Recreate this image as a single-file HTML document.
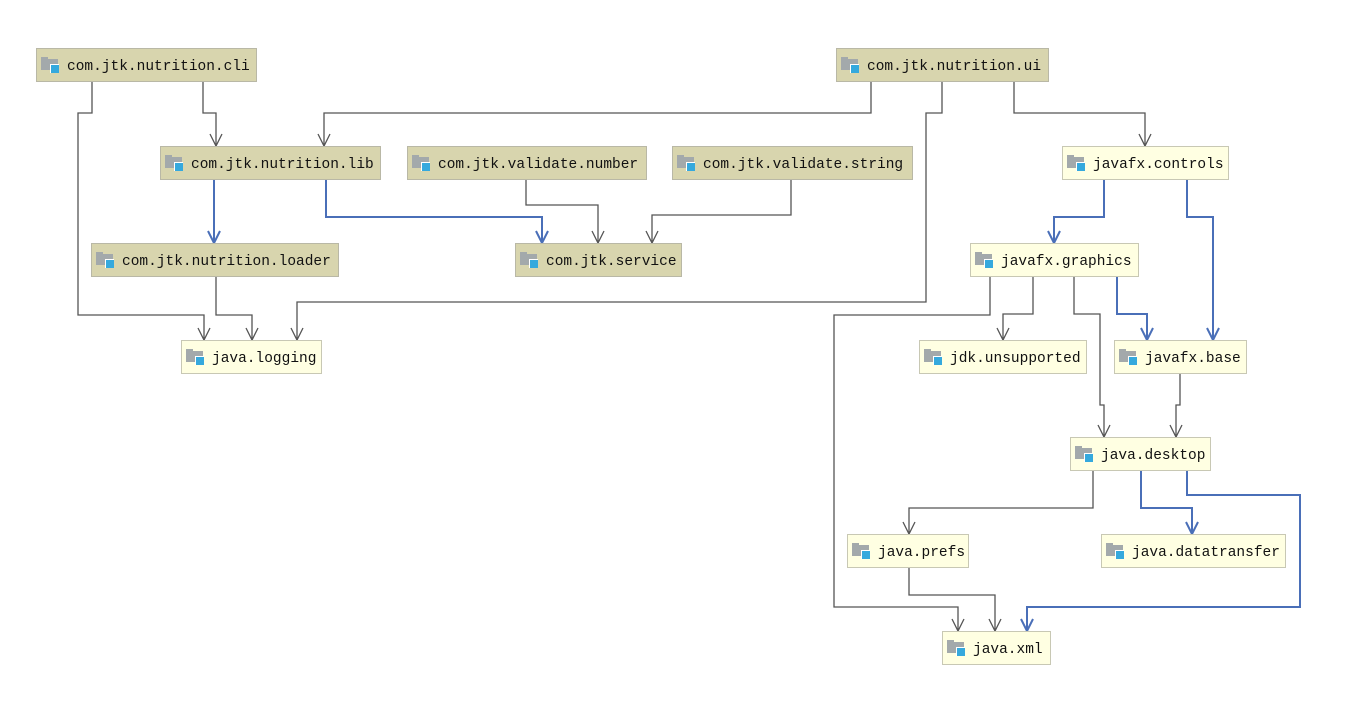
<!DOCTYPE html>
<html><head><meta charset="utf-8"><style>
body{margin:0;background:#fff;width:1358px;height:723px;overflow:hidden}
svg text{font-family:"Liberation Mono",monospace;font-size:14.5px;fill:#111}
</style></head><body>
<svg width="1358" height="723" viewBox="0 0 1358 723" xmlns="http://www.w3.org/2000/svg">
<defs>
<g id="ic"><rect x="0" y="0" width="7" height="3" fill="#a3a9ab"/><rect x="0" y="2" width="17" height="11" fill="#a3a9ab"/><rect x="9" y="7" width="9" height="9" fill="#fff"/><rect x="10" y="8" width="8" height="8" fill="#35a9dd"/></g>
</defs>
<g fill="none" stroke="#555" stroke-width="1.3">
<path d="M92 81V113H78V315H204V340"/>
<path d="M203 81V113H216V146"/>
<path d="M871 81V113H324V146"/>
<path d="M942 81V113H926V302H297V340"/>
<path d="M1014 81V113H1145V146"/>
<path d="M526 179V205H598V243"/>
<path d="M791 179V215H652V243"/>
<path d="M216 276V315H252V340"/>
<path d="M990 276V315H834V607H958V631"/>
<path d="M1033 276V314H1003V340"/>
<path d="M1074 276V314H1100V405H1104V437"/>
<path d="M1180 373V405H1176V437"/>
<path d="M1093 470V508H909V534"/>
<path d="M909 567V595H995V631"/>
<path d="M198 328L204 340L210 328M246 328L252 340L258 328M210 134L216 146L222 134M318 134L324 146L330 134M291 328L297 340L303 328M1139 134L1145 146L1151 134M592 231L598 243L604 231M646 231L652 243L658 231M952 619L958 631L964 619M997 328L1003 340L1009 328M1098 425L1104 437L1110 425M1170 425L1176 437L1182 425M903 522L909 534L915 522M989 619L995 631L1001 619"/>
</g>
<g fill="none" stroke="#4a6fb8" stroke-width="2">
<path d="M214 179V243"/>
<path d="M326 179V217H542V243"/>
<path d="M1104 179V217H1054V243"/>
<path d="M1187 179V217H1213V340"/>
<path d="M1117 276V314H1147V340"/>
<path d="M1141 470V508H1192V534"/>
<path d="M1187 470V495H1300V607H1027V631"/>
<path d="M208 231L214 243L220 231M536 231L542 243L548 231M1048 231L1054 243L1060 231M1207 328L1213 340L1219 328M1141 328L1147 340L1153 328M1186 522L1192 534L1198 522M1021 619L1027 631L1033 619"/>
</g>
<g stroke="#b9b8a6" stroke-width="1">
<rect x="36.5" y="48.5" width="220" height="33" fill="#d8d5ae"/>
<rect x="836.5" y="48.5" width="212" height="33" fill="#d8d5ae"/>
<rect x="160.5" y="146.5" width="220" height="33" fill="#d8d5ae"/>
<rect x="407.5" y="146.5" width="239" height="33" fill="#d8d5ae"/>
<rect x="672.5" y="146.5" width="240" height="33" fill="#d8d5ae"/>
<rect x="91.5" y="243.5" width="247" height="33" fill="#d8d5ae"/>
<rect x="515.5" y="243.5" width="166" height="33" fill="#d8d5ae"/>
</g>
<g stroke="#c8c8b4" stroke-width="1" fill="#ffffe2">
<rect x="1062.5" y="146.5" width="166" height="33"/>
<rect x="970.5" y="243.5" width="168" height="33"/>
<rect x="181.5" y="340.5" width="140" height="33"/>
<rect x="919.5" y="340.5" width="167" height="33"/>
<rect x="1114.5" y="340.5" width="132" height="33"/>
<rect x="1070.5" y="437.5" width="140" height="33"/>
<rect x="847.5" y="534.5" width="121" height="33"/>
<rect x="1101.5" y="534.5" width="184" height="33"/>
<rect x="942.5" y="631.5" width="108" height="33"/>
</g>
<use href="#ic" x="41" y="57"/><text x="67" y="70">com.jtk.nutrition.cli</text>
<use href="#ic" x="841" y="57"/><text x="867" y="70">com.jtk.nutrition.ui</text>
<use href="#ic" x="165" y="155"/><text x="191" y="168">com.jtk.nutrition.lib</text>
<use href="#ic" x="412" y="155"/><text x="438" y="168">com.jtk.validate.number</text>
<use href="#ic" x="677" y="155"/><text x="703" y="168">com.jtk.validate.string</text>
<use href="#ic" x="1067" y="155"/><text x="1093" y="168">javafx.controls</text>
<use href="#ic" x="96" y="252"/><text x="122" y="265">com.jtk.nutrition.loader</text>
<use href="#ic" x="520" y="252"/><text x="546" y="265">com.jtk.service</text>
<use href="#ic" x="975" y="252"/><text x="1001" y="265">javafx.graphics</text>
<use href="#ic" x="186" y="349"/><text x="212" y="362">java.logging</text>
<use href="#ic" x="924" y="349"/><text x="950" y="362">jdk.unsupported</text>
<use href="#ic" x="1119" y="349"/><text x="1145" y="362">javafx.base</text>
<use href="#ic" x="1075" y="446"/><text x="1101" y="459">java.desktop</text>
<use href="#ic" x="852" y="543"/><text x="878" y="556">java.prefs</text>
<use href="#ic" x="1106" y="543"/><text x="1132" y="556">java.datatransfer</text>
<use href="#ic" x="947" y="640"/><text x="973" y="653">java.xml</text>
</svg>
</body></html>
